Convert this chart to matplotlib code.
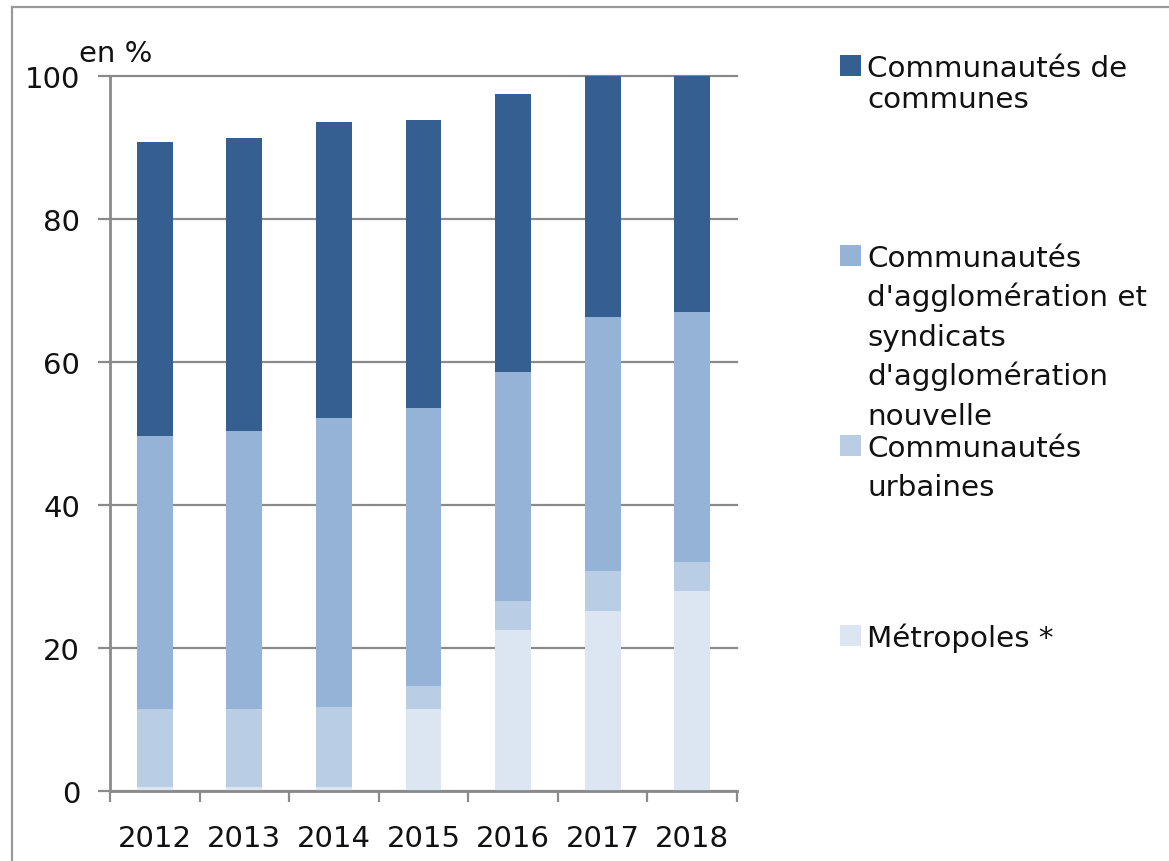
import matplotlib
matplotlib.use("Agg")
import matplotlib.pyplot as plt
from matplotlib.lines import Line2D
from matplotlib.patches import Rectangle
import numpy as np

years = ["2012", "2013", "2014", "2015", "2016", "2017", "2018"]
metropoles = [0.5, 0.5, 0.5, 11.4, 22.5, 25.2, 28.0]
urbaines = [10.9, 10.9, 11.2, 3.3, 4.1, 5.5, 4.0]
agglomeration = [38.2, 38.9, 40.5, 38.9, 32.0, 35.6, 35.0]
communes = [41.2, 41.0, 41.3, 40.2, 38.9, 33.7, 33.0]

series = [metropoles, urbaines, agglomeration, communes]
colors = ["#DCE6F2", "#B9CDE5", "#95B3D7", "#365F91"]
legend_labels = [
    "Communautés de\ncommunes",
    "Communautés\nd'agglomération et\nsyndicats\nd'agglomération\nnouvelle",
    "Communautés\nurbaines",
    "Métropoles *",
]
legend_colors = ["#365F91", "#95B3D7", "#B9CDE5", "#DCE6F2"]
legend_linesp = [31, 39.5, 39, 39]
y_ticks = [0, 20, 40, 60, 80, 100]
unit_label = "en %"

plt.rcParams['font.family'] = ['DejaVu Sans']
W, H = 1169, 862
fig = plt.figure(figsize=(W / 100, H / 100), dpi=100)

def fx(px):
    return px / W

def fy(py):
    return (H - py) / H

ax = fig.add_axes([fx(110), fy(792), fx(737) - fx(110), fy(77) - fy(792)])
x = np.arange(len(years))
bottom = np.zeros(len(years))
for vals, col in zip(series, colors):
    ax.bar(x, vals, bottom=bottom, width=0.4, color=col, edgecolor='none', zorder=2)
    bottom += np.array(vals)

ax.set_xlim(-0.5, len(years) - 0.5)
ax.set_ylim(0, 100)
ax.set_axisbelow(True)

gray = "#8a8a8a"
for s in ["top", "right"]:
    ax.spines[s].set_visible(False)
for s in ["left", "bottom"]:
    ax.spines[s].set_color(gray)
    ax.spines[s].set_linewidth(2.0)

ax.set_yticks(y_ticks)
ax.set_yticklabels([str(v) for v in y_ticks])
ax.yaxis.grid(True, color=gray, linewidth=1.6, zorder=0)
for gl in ax.get_ygridlines():
    gl.set_clip_on(False)
ax.tick_params(axis='y', direction='out', length=8.6, width=1.6, color=gray,
               pad=13, labelsize=21, labelcolor='#111111')

ax.set_xticks(np.arange(len(years) + 1) - 0.5)
ax.set_xticklabels([''] * (len(years) + 1))
ax.set_xticks(x, minor=True)
ax.set_xticklabels(years, minor=True)
ax.tick_params(axis='x', which='major', direction='out', length=8, width=1.6, color=gray)
ax.tick_params(axis='x', which='minor', length=0, pad=24, labelsize=21, labelcolor='#111111')

fig.text(fx(79), fy(62), unit_label, fontsize=21, color='#111111', va='baseline', ha='left')

# legend
for i, (lab, col, lsp) in enumerate(zip(legend_labels, legend_colors, legend_linesp)):
    base = 77 + 190 * i
    fig.patches.append(Rectangle((fx(840), fy(base)), fx(861) - fx(840), fy(base - 21) - fy(base),
                                 transform=fig.transFigure, facecolor=col, edgecolor='none'))
    for j, line in enumerate(lab.split("\n")):
        fig.text(fx(867), fy(base + j * lsp), line, fontsize=21.2, color='#111111',
                 va='baseline', ha='left')

# outer frame (left and top edges)
fig.add_artist(Line2D([fx(12), fx(12)], [fy(8), fy(H + 5)], color="#9a9a9a", linewidth=1.6,
                      transform=fig.transFigure))
fig.add_artist(Line2D([fx(12), fx(W + 5)], [fy(8), fy(8)], color="#9a9a9a", linewidth=1.6,
                      transform=fig.transFigure))

fig.savefig("out.png", dpi=100)
